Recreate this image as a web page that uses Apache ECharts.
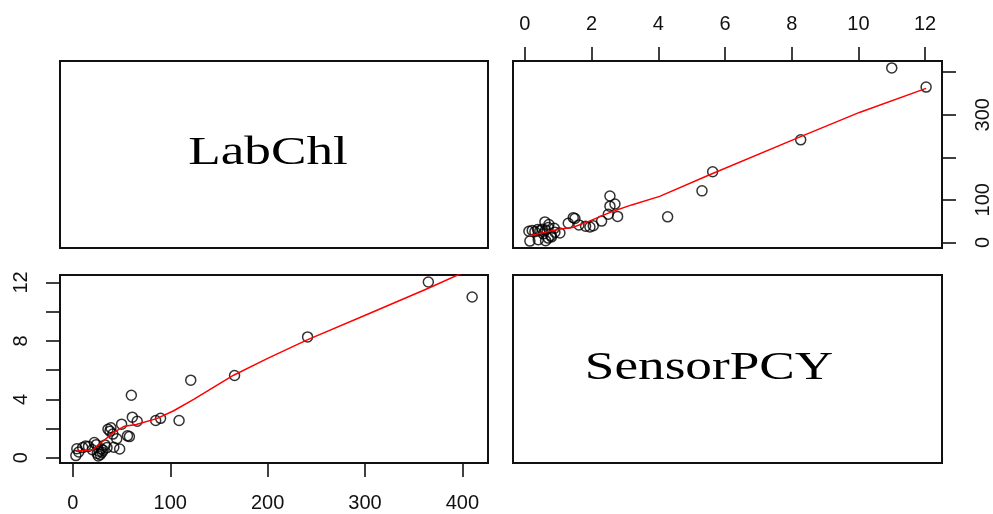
<!DOCTYPE html>
<html>
<head>
<meta charset="utf-8">
<script src="https://cdn.jsdelivr.net/npm/echarts@6/dist/echarts.min.js"></script>
<style>
  html, body { margin: 0; padding: 0; background: #fff; }
  #chart { width: 993px; height: 514px; }
</style>
</head>
<body>
<div id="chart"></div>
<script>
// Paired observations: laboratory chlorophyll vs. sensor phycocyanin
const labChl = [3, 4, 6, 10, 13, 16, 20, 22, 24, 25, 26, 27, 28, 29, 30, 31, 33, 35, 36, 38,
                39, 41, 42, 45, 48, 50, 56, 58, 60, 61, 66, 85, 90, 109, 121, 166, 241, 365, 410];
const sensorPCY = [0.15, 0.62, 0.40, 0.70, 0.80, 0.78, 0.55, 1.05, 0.90, 0.30, 0.12, 0.45, 0.22, 0.62, 0.38, 0.52, 0.88, 0.70, 1.95, 1.82,
                   2.05, 1.62, 0.72, 1.30, 0.60, 2.30, 1.50, 1.45, 4.28, 2.78, 2.50, 2.55, 2.70, 2.55, 5.31, 5.63, 8.27, 12.03, 11.0];

// Smoothed trend curves (loess) for each panel
const smoothLabX = [3, 12, 21, 29, 41, 53, 65, 86, 103, 124, 165, 200, 240, 302, 365, 410];
const smoothLabY = [0.45, 0.5, 0.57, 1.03, 1.7, 2.16, 2.28, 2.68, 3.2, 4.0, 5.65, 6.8, 8.05, 9.8, 11.6, 12.95];
const smoothPcyX = [0.12, 0.5, 1.03, 1.43, 1.93, 2.54, 3.2, 4.04, 5.54, 8.25, 10.05, 12.03];
const smoothPcyY = [15, 22, 31, 35, 50, 70, 88, 108, 159, 248, 306, 362];

// Tick positions and labels
const labTicks = [0, 100, 200, 300, 400];
const labLabelsRight = [0, 100, 300];
const pcyTicks = [0, 2, 4, 6, 8, 10, 12];
const pcyLabelsTop = [0, 2, 4, 6, 8, 10, 12];
const pcyLabelsLeft = [0, 4, 8, 12];
const varNames = ['LabChl', 'SensorPCY'];

// Axis limits padded by 4% of the data range on each side
function padRange(arr) {
  const lo = Math.min(...arr), hi = Math.max(...arr);
  const d = (hi - lo) * 0.04;
  return [lo - d, hi + d];
}
const labRange = padRange(labChl);
const pcyRange = padRange(sensorPCY);

const ink = '#111';
const tickFont = { fontFamily: 'Liberation Sans', fontSize: 20, color: ink };
const tickStyle = { show: true, length: 14, inside: false, lineStyle: { color: ink, width: 1.6 } };
const noLine = { show: false, onZero: false };

const pointsTR = labChl.map((v, i) => [sensorPCY[i], v]);
const pointsBL = labChl.map((v, i) => [v, sensorPCY[i]]);
const lineTR = smoothPcyX.map((v, i) => [v, smoothPcyY[i]]);
const lineBL = smoothLabX.map((v, i) => [v, smoothLabY[i]]);

const boxStyle = { show: true, borderColor: ink, borderWidth: 2, backgroundColor: 'transparent' };

const hiddenAxis = (gi) => ({ type: 'value', gridIndex: gi, show: false, min: 0, max: 1 });

const pointStyle = { color: 'transparent', borderColor: '#000', borderWidth: 1.5 };

const option = {
  backgroundColor: '#fff',
  animation: false,
  grid: [
    Object.assign({ left: 60, top: 61, width: 428, height: 187 }, boxStyle),
    Object.assign({ left: 513, top: 61, width: 429, height: 187 }, boxStyle),
    Object.assign({ left: 60, top: 275, width: 428, height: 188 }, boxStyle),
    Object.assign({ left: 513, top: 275, width: 429, height: 188 }, boxStyle)
  ],
  xAxis: [
    hiddenAxis(0),
    {
      type: 'value', gridIndex: 1, position: 'top',
      min: pcyRange[0], max: pcyRange[1],
      axisLine: noLine, splitLine: { show: false },
      axisTick: Object.assign({ customValues: pcyTicks }, tickStyle),
      axisLabel: Object.assign({ customValues: pcyLabelsTop, margin: 27 }, tickFont)
    },
    {
      type: 'value', gridIndex: 2, position: 'bottom',
      min: labRange[0], max: labRange[1],
      axisLine: noLine, splitLine: { show: false },
      axisTick: Object.assign({ customValues: labTicks }, tickStyle),
      axisLabel: Object.assign({ customValues: labTicks, margin: 30 }, tickFont)
    },
    hiddenAxis(3)
  ],
  yAxis: [
    hiddenAxis(0),
    {
      type: 'value', gridIndex: 1, position: 'right',
      min: labRange[0], max: labRange[1],
      axisLine: noLine, splitLine: { show: false },
      axisTick: Object.assign({ customValues: labTicks }, tickStyle),
      axisLabel: Object.assign({ customValues: labLabelsRight, margin: 31, rotate: 90 }, tickFont)
    },
    {
      type: 'value', gridIndex: 2, position: 'left',
      min: pcyRange[0], max: pcyRange[1],
      axisLine: noLine, splitLine: { show: false },
      axisTick: Object.assign({ customValues: pcyTicks }, tickStyle),
      axisLabel: Object.assign({ customValues: pcyLabelsLeft, margin: 29, rotate: 90 }, tickFont)
    },
    hiddenAxis(3)
  ],
  series: [
    {
      type: 'scatter', xAxisIndex: 1, yAxisIndex: 1, data: pointsTR,
      symbol: 'circle', symbolSize: 10, itemStyle: pointStyle, z: 3
    },
    {
      type: 'line', xAxisIndex: 1, yAxisIndex: 1, data: lineTR,
      showSymbol: false, smooth: false, clip: true,
      lineStyle: { color: '#ff0000', width: 1.5 }, z: 4
    },
    {
      type: 'scatter', xAxisIndex: 2, yAxisIndex: 2, data: pointsBL,
      symbol: 'circle', symbolSize: 10, itemStyle: pointStyle, z: 3
    },
    {
      type: 'line', xAxisIndex: 2, yAxisIndex: 2, data: lineBL,
      showSymbol: false, smooth: false, clip: true,
      lineStyle: { color: '#ff0000', width: 1.5 }, z: 4
    }
  ],
  graphic: [
    {
      type: 'text', x: 268, y: 153, scaleX: 1.33,
      style: { text: varNames[0], fontFamily: 'Liberation Serif', fontSize: 40,
               fill: '#000', textAlign: 'center', textVerticalAlign: 'middle' }
    },
    {
      type: 'text', x: 709, y: 368, scaleX: 1.33,
      style: { text: varNames[1], fontFamily: 'Liberation Serif', fontSize: 40,
               fill: '#000', textAlign: 'center', textVerticalAlign: 'middle' }
    }
  ]
};

const chart = echarts.init(document.getElementById('chart'), null, { renderer: 'canvas' });
chart.setOption(option);
</script>
</body>
</html>
